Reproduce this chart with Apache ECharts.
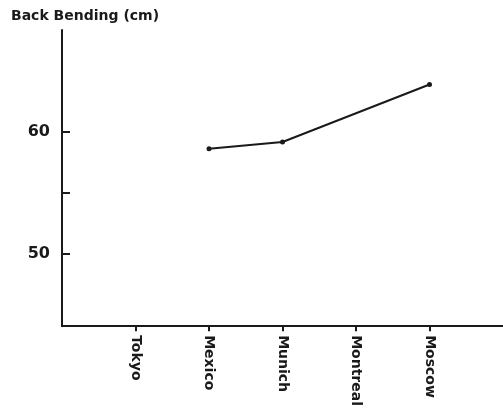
<!DOCTYPE html>
<html>
<head>
<meta charset="utf-8">
<script src="https://cdn.jsdelivr.net/npm/echarts@6/dist/echarts.min.js"></script>
<style>
  html, body { margin: 0; padding: 0; background: #fff; }
  #chart { width: 503px; height: 409px; }
</style>
</head>
<body>
<div id="chart"></div>
<script>
// Olympic venues along the horizontal axis (blank slots pad both ends)
const venues = ['', 'Tokyo', 'Mexico', 'Munich', 'Montreal', 'Moscow', ''];
// Back bending flexibility in cm; null where no measurement exists
const backBending = [null, null, 58.6, 59.15, null, 63.85, null];
// Value-axis ticks and labels
const yTicks = [50, 55, 60];
const yLabels = [50, 60];

const ink = '#1a1a1a';
const font = 'DejaVu Sans';

const chart = echarts.init(document.getElementById('chart'));
chart.setOption({
  animation: false,
  backgroundColor: '#fff',
  title: {
    text: 'Back Bending (cm)',
    left: 6,
    top: 4,
    textStyle: { fontFamily: font, fontSize: 14, fontWeight: 'bold', color: ink }
  },
  grid: { left: 62, top: 30, width: 443, bottom: 79 },
  xAxis: {
    type: 'category',
    data: venues,
    boundaryGap: false,
    axisLine: { lineStyle: { color: ink, width: 2 } },
    axisTick: {
      show: true,
      length: 5,
      interval: (i) => i >= 1 && i <= 5,
      lineStyle: { color: ink, width: 2 }
    },
    axisLabel: {
      interval: 0,
      rotate: -90,
      margin: 9,
      fontFamily: font,
      fontSize: 14,
      fontWeight: 'bold',
      color: ink
    },
    splitLine: { show: false }
  },
  yAxis: {
    type: 'value',
    min: 44.1,
    max: 68.3,
    axisLine: { show: true, lineStyle: { color: ink, width: 2 } },
    axisTick: {
      show: true,
      inside: true,
      length: 8,
      customValues: yTicks,
      lineStyle: { color: ink, width: 2 }
    },
    axisLabel: {
      customValues: yLabels,
      margin: 12,
      fontFamily: font,
      fontSize: 16,
      fontWeight: 'bold',
      color: ink
    },
    splitLine: { show: false }
  },
  series: [{
    type: 'line',
    data: backBending,
    connectNulls: true,
    symbol: 'circle',
    symbolSize: 5,
    lineStyle: { color: ink, width: 2 },
    itemStyle: { color: ink }
  }]
});
</script>
</body>
</html>
